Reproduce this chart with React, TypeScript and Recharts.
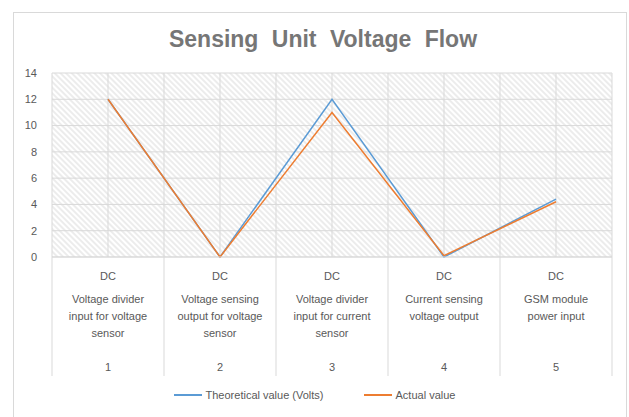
import React from "react";
import { LineChart, Line, XAxis, YAxis, CartesianGrid } from "recharts";

const currentTypes = ["DC", "DC", "DC", "DC", "DC"];
const categoryLines = [
  ["Voltage divider", "input for voltage", "sensor"],
  ["Voltage sensing", "output for voltage", "sensor"],
  ["Voltage divider", "input for current", "sensor"],
  ["Current sensing", "voltage output"],
  ["GSM module", "power input"],
];
const pointNumbers = [1, 2, 3, 4, 5];
const theoreticalValues = [12, 0, 12, 0, 4.4];
const actualValues = [12, 0, 11, 0.1, 4.2];
const yTicks = [0, 2, 4, 6, 8, 10, 12, 14];
const xTicks = [0.5, 1, 1.5, 2, 2.5, 3, 3.5, 4, 4.5, 5, 5.5];

const data = pointNumbers.map((n, i) => ({
  idx: n,
  theoretical: theoreticalValues[i],
  actual: actualValues[i],
}));

const TEXT = "#595959";
const GRID = "#d9d9d9";
const FONT = "'Liberation Sans', Arial, sans-serif";

const CategoryTick = (props: any) => {
  const { x, y, payload } = props;
  const v = payload.value;
  if (!Number.isInteger(v)) {
    return <line x1={x} x2={x} y1={y} y2={y + 119} stroke={GRID} />;
  }
  const i = v - 1;
  return (
    <g fontFamily={FONT} fontSize={11} fill={TEXT}>
      <text x={x} y={y + 23} textAnchor="middle">{currentTypes[i]}</text>
      {categoryLines[i].map((line, k) => (
        <text key={k} x={x} y={y + 46 + k * 17} textAnchor="middle">{line}</text>
      ))}
      <text x={x} y={y + 114} textAnchor="middle">{pointNumbers[i]}</text>
    </g>
  );
};

const LegendItem = ({ color, label }: { color: string; label: string }) => (
  <div style={{ display: "flex", alignItems: "center", marginRight: 40 }}>
    <div style={{ width: 28, height: 2, background: color, marginRight: 4 }} />
    <span>{label}</span>
  </div>
);

export default function App() {
  return (
    <div style={{ position: "absolute", left: 0, top: 0, width: 629, height: 417, background: "#fff", overflow: "hidden" }}>
      <div style={{ position: "absolute", left: 13, top: 12, width: 614, height: 420, border: `1px solid ${GRID}`, boxSizing: "border-box" }} />
      <div
        style={{
          position: "absolute", left: 0, top: 26, width: 646, textAlign: "center",
          fontFamily: FONT, fontWeight: "bold", fontSize: 23, color: "#767676", wordSpacing: 7,
        }}
      >
        Sensing Unit Voltage Flow
      </div>
      <div style={{ position: "absolute", left: 0, top: 0 }}>
        <LineChart width={629} height={417} data={data} margin={{ top: 73, right: 17, bottom: 30, left: 22 }}>
          <defs>
            <pattern id="hatch" patternUnits="userSpaceOnUse" width="4" height="4" patternTransform="rotate(45)">
              <rect width="4" height="4" fill="#ffffff" />
              <line x1="0" y1="1" x2="4" y2="1" stroke="#dadada" strokeWidth="1" />
            </pattern>
          </defs>
          <CartesianGrid stroke={GRID} fill="url(#hatch)" fillOpacity={1} />
          <XAxis
            dataKey="idx"
            type="number"
            domain={[0.5, 5.5]}
            ticks={xTicks}
            interval={0}
            tickLine={false}
            tickSize={0}
            tickMargin={0}
            axisLine={{ stroke: GRID }}
            height={130}
            tick={<CategoryTick />}
          />
          <YAxis
            domain={[0, 14]}
            ticks={yTicks}
            width={30}
            axisLine={false}
            tickLine={false}
            tickSize={0}
            tickMargin={15}
            tick={{ fill: TEXT, fontSize: 11, fontFamily: FONT }}
          />
          <Line type="linear" dataKey="theoretical" stroke="#5b9bd5" strokeWidth={1.5} dot={false} isAnimationActive={false} />
          <Line type="linear" dataKey="actual" stroke="#ed7d31" strokeWidth={1.5} dot={false} isAnimationActive={false} />
        </LineChart>
      </div>
      <div
        style={{
          position: "absolute", left: 0, top: 389, width: 669, display: "flex", justifyContent: "center",
          fontFamily: FONT, fontSize: 11, color: TEXT,
        }}
      >
        <LegendItem color="#5b9bd5" label="Theoretical value (Volts)" />
        <LegendItem color="#ed7d31" label="Actual value" />
      </div>
    </div>
  );
}
